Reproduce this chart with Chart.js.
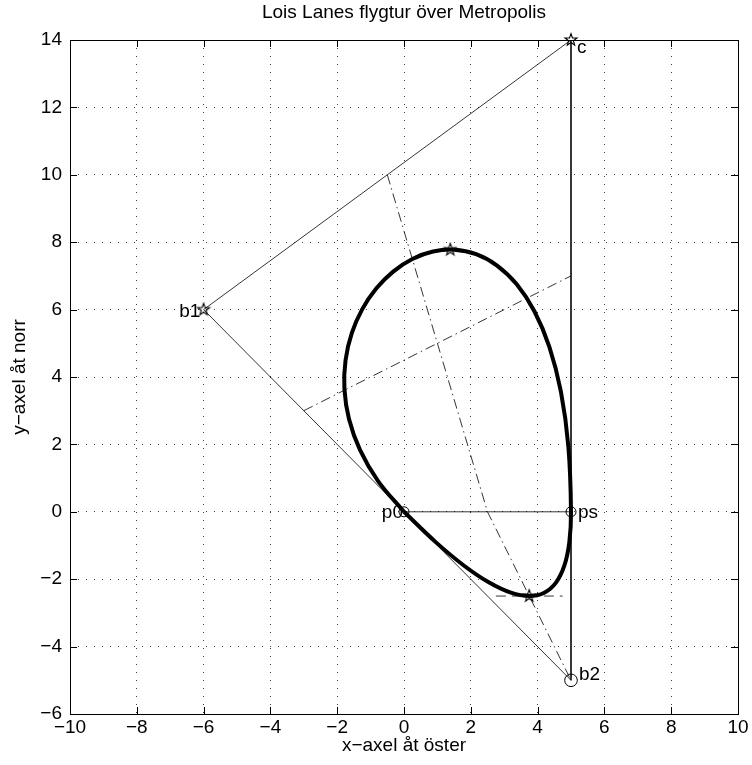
<!DOCTYPE html>
<html><head><meta charset="utf-8">
<script src="https://cdn.jsdelivr.net/npm/chart.js@4"></script>
<style>html,body{margin:0;padding:0;background:#fff}</style>
</head><body>
<canvas id="c" width="752" height="765"></canvas>
<script>
// ---------- data ----------
const titleText = 'Lois Lanes flygtur över Metropolis';
const xTitle = 'x−axel åt öster';
const yTitle = 'y−axel åt norr';
const xTicks = [-10,-8,-6,-4,-2,0,2,4,6,8,10];
const yTicks = [-6,-4,-2,0,2,4,6,8,10,12,14];

// triangle b1 -> c -> b2 -> b1
const triX = [-6, 5, 5, -6];
const triY = [6, 14, -5, 6];
// chord p0 -> ps
const chordX = [0, 5];
const chordY = [0, 0];
// dash-dot construction lines
const diamAX = [-0.5, 2.5, 5];
const diamAY = [10, 0, -5];
const diamBX = [-3, 5];
const diamBY = [3, 7];
// dashed tangent at the bottom
const tanX = [2.75, 4.75];
const tanY = [-2.5, -2.5];
// flight path (closed loop)
const pathX = [0, -0.776, -1.318, -1.647, -1.784, -1.750, -1.566, -1.253, -0.832, -0.324, 0.25, 0.869, 1.512, 2.158, 2.786, 3.375, 3.904, 4.352, 4.698, 4.921, 5,
               4.95, 4.8, 4.55, 4.2, 3.75, 3.2, 2.55, 1.8, 0.95, 0];
const pathY = [0, 0.912, 1.836, 2.754, 3.648, 4.5, 5.292, 6.006, 6.624, 7.128, 7.5, 7.722, 7.776, 7.644, 7.308, 6.75, 5.952, 4.896, 3.564, 1.938, 0,
               -0.9, -1.6, -2.1, -2.4, -2.5, -2.4, -2.1, -1.6, -0.9, 0];
// star markers: c, b1, top, bottom
const starX = [5, -6, 1.385, 3.75];
const starY = [14, 6, 7.779, -2.5];
// small circles: p0, ps
const circX = [0, 5];
const circY = [0, 0];
// big circle: b2
const bigCircX = [5];
const bigCircY = [-5];
// point labels
const labelText = ['c', 'b1', 'p0', 'ps', 'b2'];
const labelX = [5.18, -6.1, -0.03, 5.21, 5.24];
const labelY = [13.77, 5.93, -0.03, -0.03, -4.84];
const labelAlign = ['left', 'right', 'right', 'left', 'left'];

// ---------- helpers ----------
const FONT = '"Liberation Sans", Arial, Helvetica, sans-serif';
const FS = 19;
const pts = (xs, ys) => xs.map((x, i) => ({x, y: ys[i]}));
const fmt = v => String(v).replace('-', '\u2212');

function makeStar() {
  const c = document.createElement('canvas');
  c.width = 16; c.height = 16;
  const g = c.getContext('2d');
  g.strokeStyle = '#000'; g.lineWidth = 1.1;
  g.beginPath();
  for (let i = 0; i < 10; i++) {
    const r = i % 2 === 0 ? 6.3 : 2.5;
    const a = -Math.PI / 2 + i * Math.PI / 5;
    const px = 8 + r * Math.cos(a), py = 8 + r * Math.sin(a);
    if (i === 0) g.moveTo(px, py); else g.lineTo(px, py);
  }
  g.closePath(); g.stroke();
  return c;
}
const starImg = makeStar();

const lineDs = (data, opts) => Object.assign({
  data, showLine: true, pointRadius: 0, borderColor: '#000', borderWidth: 0.8,
  tension: 0, fill: false
}, opts);

const decor = {
  id: 'decor',
  afterDraw(chart) {
    const {ctx, chartArea: a, scales: {x, y}} = chart;
    ctx.save();
    // box
    ctx.strokeStyle = '#000'; ctx.lineWidth = 1;
    ctx.strokeRect(Math.round(a.left) + 0.5, Math.round(a.top) + 0.5,
                   Math.round(a.right - a.left), Math.round(a.bottom - a.top));
    // inward ticks
    const L = 7;
    ctx.beginPath();
    xTicks.forEach(v => {
      const px = Math.round(x.getPixelForValue(v)) + 0.5;
      ctx.moveTo(px, a.bottom); ctx.lineTo(px, a.bottom - L);
      ctx.moveTo(px, a.top); ctx.lineTo(px, a.top + L);
    });
    yTicks.forEach(v => {
      const py = Math.round(y.getPixelForValue(v)) + 0.5;
      ctx.moveTo(a.left, py); ctx.lineTo(a.left + L, py);
      ctx.moveTo(a.right, py); ctx.lineTo(a.right - L, py);
    });
    ctx.stroke();
    // texts
    ctx.fillStyle = '#000';
    ctx.font = FS + 'px ' + FONT;
    ctx.textBaseline = 'middle';
    labelText.forEach((t, i) => {
      ctx.textAlign = labelAlign[i];
      ctx.fillText(t, x.getPixelForValue(labelX[i]), y.getPixelForValue(labelY[i]));
    });
    ctx.textAlign = 'center';
    const cx = (a.left + a.right) / 2;
    ctx.fillText(titleText, cx, 13);
    ctx.fillText(xTitle, cx, 746);
    ctx.translate(20, (a.top + a.bottom) / 2);
    ctx.rotate(-Math.PI / 2);
    ctx.fillText(yTitle, 0, 0);
    ctx.restore();
  }
};

const gridCfg = {color: 'rgba(0,0,0,0.75)', lineWidth: 1, drawTicks: false};
const tickFont = {family: FONT, size: FS};

new Chart(document.getElementById('c'), {
  type: 'scatter',
  data: {
    datasets: [
      lineDs(pts(triX, triY)),
      lineDs(pts(chordX, chordY)),
      lineDs(pts(diamAX, diamAY), {borderDash: [10, 4, 1.5, 4]}),
      lineDs(pts(diamBX, diamBY), {borderDash: [10, 4, 1.5, 4]}),
      lineDs(pts(tanX, tanY), {borderDash: [10, 6]}),
      lineDs(pts(pathX, pathY), {borderWidth: 4, tension: 0.4, cubicInterpolationMode: 'default'}),
      {data: pts(starX, starY), pointStyle: starImg, pointRadius: 6, showLine: false, clip: false},
      {data: pts(circX, circY), pointStyle: 'circle', pointRadius: 5, borderColor: '#000', borderWidth: 1,
       backgroundColor: 'rgba(0,0,0,0)', showLine: false, clip: false},
      {data: pts(bigCircX, bigCircY), pointStyle: 'circle', pointRadius: 6.3, borderColor: '#000', borderWidth: 1,
       backgroundColor: 'rgba(0,0,0,0)', showLine: false, clip: false}
    ]
  },
  options: {
    responsive: false, animation: false, devicePixelRatio: 1,
    layout: {padding: {top: 40, right: 14, left: 0, bottom: 0}},
    plugins: {legend: {display: false}, tooltip: {enabled: false}, title: {display: false}},
    elements: {point: {hoverRadius: 0}},
    scales: {
      x: {
        type: 'linear', min: -10, max: 10,
        afterBuildTicks: s => { s.ticks = xTicks.map(v => ({value: v})); },
        afterFit: s => { s.height = 51; },
        ticks: {callback: v => fmt(v), font: tickFont, color: '#000', padding: 2, maxRotation: 0, autoSkip: false},
        grid: gridCfg,
        border: {display: false, dash: [1, 7]}
      },
      y: {
        type: 'linear', min: -6, max: 14,
        afterBuildTicks: s => { s.ticks = yTicks.map(v => ({value: v})); },
        afterFit: s => { s.width = 70; },
        ticks: {callback: v => fmt(v), font: tickFont, color: '#000', padding: 8, autoSkip: false},
        grid: gridCfg,
        border: {display: false, dash: [1, 7]}
      }
    }
  },
  plugins: [decor]
});
</script>
</body></html>
